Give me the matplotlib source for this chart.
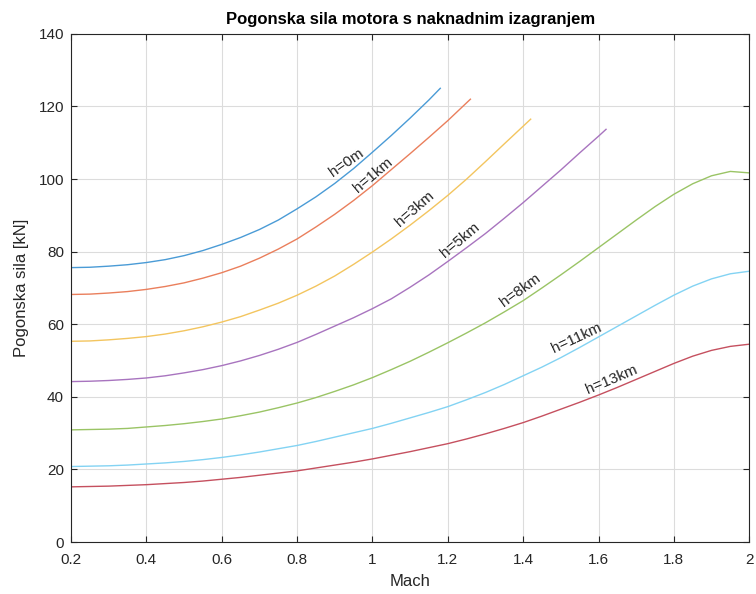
import numpy as np
import matplotlib
matplotlib.use('Agg')
import matplotlib.pyplot as plt

plt.rcParams['font.family'] = ['Liberation Sans', 'DejaVu Sans']

# Mach grid (0.2 ... 2.0, step 0.05) and thrust [kN]
mach = [0.2, 0.25, 0.3, 0.35, 0.4, 0.45, 0.5, 0.55, 0.6, 0.65, 0.7, 0.75, 0.8, 0.85,
        0.9, 0.95, 1.0, 1.05, 1.1, 1.15, 1.2, 1.25, 1.3, 1.35, 1.4, 1.45, 1.5, 1.55,
        1.6, 1.65, 1.7, 1.75, 1.8, 1.85, 1.9, 1.95, 2.0]

mach_0 = mach[:20] + [1.18]
F_0 = [75.6, 75.7, 76.0, 76.4, 77.0, 77.8, 78.9, 80.3, 82.0, 83.9, 86.1, 88.7, 91.8,
       95.1, 98.8, 102.9, 107.4, 112.0, 116.8, 121.8, 125.0]

mach_1 = mach[:21] + [1.26]
F_1 = [68.2, 68.3, 68.6, 69.0, 69.6, 70.4, 71.4, 72.7, 74.2, 76.0, 78.2, 80.7, 83.5,
       86.8, 90.3, 94.1, 98.2, 102.6, 107.0, 111.5, 116.1, 122.0]

mach_3 = mach[:24] + [1.42]
F_3 = [55.3, 55.4, 55.7, 56.1, 56.6, 57.3, 58.2, 59.3, 60.6, 62.1, 63.9, 65.8, 68.0,
       70.5, 73.3, 76.5, 79.9, 83.5, 87.3, 91.3, 95.5, 100.0, 104.8, 109.7, 116.5]

mach_5 = mach[:29] + [1.62]
F_5 = [44.2, 44.3, 44.5, 44.8, 45.2, 45.8, 46.6, 47.5, 48.6, 49.9, 51.4, 53.1, 55.0,
       57.2, 59.5, 61.8, 64.3, 67.0, 70.2, 73.6, 77.3, 81.1, 85.0, 89.2, 93.5, 98.0,
       102.5, 107.2, 111.8, 113.7]

mach_8 = mach
F_8 = [30.9, 31.0, 31.1, 31.3, 31.7, 32.1, 32.6, 33.2, 33.9, 34.8, 35.8, 37.0, 38.3,
       39.8, 41.5, 43.3, 45.3, 47.5, 49.8, 52.3, 54.9, 57.6, 60.4, 63.4, 66.5, 70.0,
       73.6, 77.3, 81.1, 84.9, 88.7, 92.4, 95.8, 98.7, 100.9, 102.1, 101.7]

mach_11 = mach
F_11 = [20.8, 20.9, 21.0, 21.2, 21.5, 21.8, 22.2, 22.7, 23.3, 24.0, 24.8, 25.7, 26.6,
        27.7, 28.9, 30.1, 31.3, 32.7, 34.2, 35.7, 37.3, 39.2, 41.2, 43.4, 45.8, 48.2,
        50.8, 53.6, 56.5, 59.4, 62.3, 65.2, 68.0, 70.5, 72.5, 73.9, 74.6]

mach_13 = mach
F_13 = [15.2, 15.3, 15.4, 15.6, 15.8, 16.1, 16.4, 16.8, 17.3, 17.8, 18.4, 19.0, 19.6,
        20.4, 21.2, 22.0, 22.9, 23.9, 24.9, 26.0, 27.1, 28.4, 29.8, 31.3, 32.9, 34.7,
        36.6, 38.5, 40.5, 42.6, 44.8, 47.0, 49.2, 51.2, 52.8, 53.9, 54.5]

labels = ['h=0m', 'h=1km', 'h=3km', 'h=5km', 'h=8km', 'h=11km', 'h=13km']
label_x = [0.93, 1.003, 1.113, 1.233, 1.392, 1.541, 1.634]
label_y = [104.6, 101.0, 91.7, 83.2, 69.4, 56.2, 44.6]
label_rot = [35, 40, 41, 40, 36, 25, 23]

colors = ['#4a9bd6', '#ea7f5c', '#f3c55f', '#a874bf', '#9ac465', '#83d3f3', '#c5505f']

fig, ax = plt.subplots()
fig.set_figwidth(7.56)
fig.set_figheight(5.94)
fig.subplots_adjust(left=0.094, right=0.991, bottom=0.0875, top=0.943)

curves = [(mach_0, F_0), (mach_1, F_1), (mach_3, F_3), (mach_5, F_5),
          (mach_8, F_8), (mach_11, F_11), (mach_13, F_13)]

for (m, f), c in zip(curves, colors):
    ax.plot(m, f, color=c, linewidth=1.0)

for t, x, y, r in zip(labels, label_x, label_y, label_rot):
    ax.text(x, y, t, rotation=r, ha='center', va='center', fontsize=11, color='#262626')

ax.set_xlim(0.2, 2.0)
ax.set_ylim(0, 140)
ax.set_xticks(np.arange(0.2, 2.01, 0.2))
ax.set_xticklabels(['0.2', '0.4', '0.6', '0.8', '1', '1.2', '1.4', '1.6', '1.8', '2'])
ax.set_yticks(np.arange(0, 141, 20))

ax.grid(True, color='#dcdcdc', linewidth=0.8)
ax.tick_params(direction='in', top=True, right=True, labelsize=11, colors='#262626', length=4)
ax.tick_params(axis='x', pad=8)
ax.tick_params(axis='y', pad=5)
for sp in ax.spines.values():
    sp.set_color('#262626')
    sp.set_linewidth(0.8)

ax.set_xlabel('Mach', size=12, color='#262626', labelpad=5)
ax.set_ylabel('Pogonska sila [kN]', size=12, color='#262626', labelpad=7)
ax.set_title('Pogonska sila motora s naknadnim izagranjem', size=12, fontweight='bold', pad=7)

plt.savefig('out.png', dpi=100)
